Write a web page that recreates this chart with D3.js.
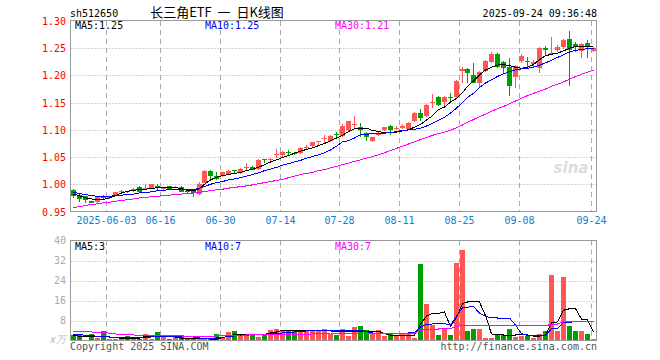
<!DOCTYPE html>
<html>
<head>
<meta charset="utf-8">
<script src="https://cdn.jsdelivr.net/npm/d3@7"></script>
<style>
body { margin: 0; background: #fff; }
svg { display: block; }
</style>
</head>
<body>
<div id="chart"></div>
<script>
// 交易日
const dates = ['2025-05-23','2025-05-26','2025-05-27','2025-05-28','2025-05-29','2025-05-30',
  '2025-06-03','2025-06-04','2025-06-05','2025-06-06','2025-06-09','2025-06-10','2025-06-11','2025-06-12','2025-06-13',
  '2025-06-16','2025-06-17','2025-06-18','2025-06-19','2025-06-20','2025-06-23','2025-06-24','2025-06-25','2025-06-26','2025-06-27',
  '2025-06-30','2025-07-01','2025-07-02','2025-07-03','2025-07-04','2025-07-07','2025-07-08','2025-07-09','2025-07-10','2025-07-11',
  '2025-07-14','2025-07-15','2025-07-16','2025-07-17','2025-07-18','2025-07-21','2025-07-22','2025-07-23','2025-07-24','2025-07-25',
  '2025-07-28','2025-07-29','2025-07-30','2025-07-31','2025-08-01','2025-08-04','2025-08-05','2025-08-06','2025-08-07','2025-08-08',
  '2025-08-11','2025-08-12','2025-08-13','2025-08-14','2025-08-15','2025-08-18','2025-08-19','2025-08-20','2025-08-21','2025-08-22',
  '2025-08-25','2025-08-26','2025-08-27','2025-08-28','2025-08-29','2025-09-01','2025-09-02','2025-09-03','2025-09-04','2025-09-05',
  '2025-09-08','2025-09-09','2025-09-10','2025-09-11','2025-09-12','2025-09-15','2025-09-16','2025-09-17','2025-09-18','2025-09-19',
  '2025-09-22','2025-09-23','2025-09-24'];

const openP = [0.989,0.981,0.978,0.969,0.968,0.979,0.976,0.979,0.986,0.987,
  0.989,0.995,0.992,0.994,0.997,0.992,0.996,0.994,0.995,0.987,
  0.988,0.982,1.003,1.025,1.015,1.015,1.018,1.026,1.021,1.031,
  1.032,1.028,1.046,1.045,1.054,1.053,1.060,1.057,1.058,1.067,
  1.071,1.078,1.084,1.079,1.092,1.088,1.099,1.110,1.106,1.094,
  1.080,1.091,1.099,1.108,1.102,1.103,1.102,1.116,1.131,1.125,
  1.149,1.161,1.152,1.160,1.160,1.209,1.211,1.201,1.187,1.208,
  1.224,1.239,1.224,1.215,1.198,1.227,1.226,1.221,1.213,1.250,
  1.240,1.247,1.253,1.267,1.258,1.244,1.260,1.245];
const highP = [0.991,0.982,0.979,0.970,0.979,0.980,0.979,0.986,0.989,0.988,
  0.994,0.996,1.000,1.000,1.001,0.994,0.997,0.996,0.996,0.989,
  0.989,1.004,1.026,1.026,1.023,1.023,1.026,1.027,1.030,1.040,
  1.033,1.046,1.047,1.048,1.064,1.062,1.063,1.060,1.068,1.073,
  1.078,1.080,1.091,1.090,1.096,1.110,1.117,1.125,1.113,1.096,
  1.087,1.096,1.106,1.109,1.108,1.110,1.114,1.132,1.139,1.148,
  1.166,1.163,1.162,1.168,1.192,1.216,1.213,1.223,1.208,1.228,
  1.243,1.241,1.226,1.232,1.220,1.240,1.233,1.229,1.252,1.254,
  1.271,1.255,1.267,1.282,1.262,1.259,1.266,1.252];
const lowP = [0.974,0.967,0.965,0.965,0.965,0.972,0.973,0.978,0.984,0.984,
  0.986,0.984,0.989,0.993,0.989,0.990,0.991,0.993,0.985,0.984,
  0.977,0.980,1.002,1.009,1.007,1.013,1.017,1.020,1.019,1.027,
  1.026,1.027,1.039,1.042,1.049,1.049,1.052,1.053,1.056,1.064,
  1.069,1.070,1.076,1.077,1.085,1.087,1.097,1.103,1.086,1.079,
  1.078,1.088,1.097,1.091,1.099,1.102,1.100,1.114,1.117,1.123,
  1.141,1.143,1.141,1.153,1.158,1.187,1.187,1.186,1.177,1.206,
  1.222,1.214,1.204,1.163,1.177,1.222,1.216,1.216,1.205,1.238,
  1.238,1.243,1.248,1.181,1.243,1.232,1.232,1.243];
const closeP = [0.979,0.973,0.972,0.966,0.977,0.975,0.977,0.985,0.987,0.986,
  0.991,0.986,0.994,1.000,0.993,0.993,0.992,0.995,0.986,0.986,
  0.984,1.001,1.024,1.015,1.010,1.022,1.025,1.024,1.029,1.032,
  1.027,1.045,1.044,1.046,1.056,1.059,1.058,1.056,1.067,1.069,
  1.077,1.079,1.085,1.089,1.090,1.108,1.116,1.111,1.099,1.086,
  1.086,1.092,1.105,1.100,1.104,1.108,1.112,1.131,1.122,1.146,
  1.151,1.146,1.161,1.159,1.190,1.211,1.205,1.187,1.207,1.227,
  1.240,1.216,1.213,1.181,1.218,1.235,1.224,1.225,1.250,1.246,
  1.242,1.253,1.265,1.246,1.252,1.257,1.253,1.250];

// 均线
const ma5 = [0.982,0.979,0.975,0.973,0.972,0.972,0.975,0.979,0.984,0.987,
  0.989,0.990,0.991,0.992,0.994,0.995,0.995,0.994,0.992,0.989,
  0.988,0.992,1.000,1.008,1.013,1.016,1.018,1.020,1.022,1.025,
  1.028,1.031,1.036,1.041,1.045,1.049,1.053,1.057,1.061,1.064,
  1.067,1.071,1.075,1.080,1.085,1.090,1.097,1.102,1.103,1.103,
  1.099,1.097,1.095,1.095,1.096,1.098,1.100,1.105,1.110,1.118,
  1.126,1.137,1.142,1.151,1.158,1.168,1.180,1.190,1.201,1.210,
  1.215,1.219,1.220,1.218,1.215,1.213,1.215,1.220,1.229,1.236,
  1.239,1.241,1.245,1.250,1.253,1.254,1.254,1.253];
const ma10 = [0.985,0.983,0.981,0.979,0.978,0.978,0.978,0.979,0.980,0.981,
  0.982,0.984,0.985,0.986,0.988,0.989,0.990,0.990,0.990,0.990,
  0.990,0.993,0.996,1.000,1.003,1.005,1.008,1.010,1.012,1.015,
  1.018,1.021,1.025,1.028,1.031,1.035,1.038,1.041,1.044,1.048,
  1.051,1.054,1.058,1.063,1.070,1.078,1.080,1.085,1.091,1.092,
  1.093,1.093,1.094,1.095,1.097,1.099,1.100,1.101,1.103,1.107,
  1.112,1.118,1.123,1.131,1.140,1.150,1.160,1.167,1.178,1.186,
  1.192,1.198,1.203,1.207,1.210,1.212,1.213,1.215,1.219,1.223,
  1.228,1.233,1.238,1.243,1.246,1.248,1.249,1.250];
const ma30 = [0.957,0.959,0.961,0.963,0.964,0.966,0.967,0.969,0.970,0.972,
  0.973,0.975,0.976,0.977,0.978,0.979,0.980,0.981,0.982,0.983,
  0.984,0.985,0.987,0.988,0.990,0.991,0.993,0.994,0.996,0.997,
  0.999,1.001,1.003,1.005,1.007,1.009,1.012,1.015,1.018,1.020,
  1.022,1.025,1.027,1.030,1.033,1.036,1.039,1.042,1.045,1.048,
  1.051,1.054,1.058,1.062,1.066,1.070,1.074,1.078,1.082,1.086,
  1.090,1.093,1.096,1.099,1.104,1.109,1.114,1.119,1.124,1.129,
  1.134,1.139,1.143,1.148,1.153,1.158,1.163,1.167,1.171,1.175,
  1.180,1.184,1.188,1.193,1.198,1.202,1.206,1.210];

// 成交量 (万)
const volume = [2.1,2.1,0.4,2.5,1.0,3.7,0.5,0.5,1.4,1.7,
  0.8,0.8,2.5,0.5,3.4,1.4,0.8,1.4,2.1,1.2,
  1.2,0.8,0.8,0.5,2.5,1.2,3.4,3.8,2.8,1.7,
  2.1,1.4,2.5,4.1,4.6,4.4,4.1,4.1,3.8,4.4,
  3.8,4.1,4.6,2.5,2.1,4.5,1.7,5.4,5.7,4.1,
  2.8,4.1,1.7,2.8,1.7,2.5,2.5,1.2,30.5,14.5,
  6.1,2.1,4.8,2.1,31.1,36.1,3.7,4.8,4.5,1.0,
  1.0,2.4,2.4,4.5,1.4,1.7,1.7,1.0,2.5,3.7,
  26.1,3.7,25.3,5.7,3.8,3.8,2.8,0.5];
const volMa5 = [2.1,1.7,1.7,1.6,1.6,1.5,1.4,1.4,0.8,0.8,
  0.8,0.9,1.7,1.7,1.7,1.6,1.5,1.4,1.0,1.0,
  1.0,1.0,0.7,0.6,0.6,1.2,1.7,2.3,2.5,2.5,
  2.5,2.5,2.5,3.0,3.4,4.1,4.1,4.1,4.1,4.1,
  4.1,4.1,4.1,3.8,3.7,3.7,3.7,3.7,3.7,3.7,
  3.7,3.7,2.8,2.1,2.1,2.1,2.1,2.1,6.5,9.8,
  10.9,10.9,11.4,5.6,9.2,14.8,15.4,15.5,15.4,10.0,
  2.6,2.4,2.2,2.2,2.2,2.3,2.2,1.8,1.8,2.1,
  7.0,7.4,12.1,12.7,12.8,8.5,8.3,3.3];
const volMa10 = [2.5,2.3,2.1,1.9,1.7,1.6,1.4,1.3,1.2,1.2,
  1.2,1.2,1.2,1.4,1.6,1.7,1.7,1.7,1.7,1.7,
  1.4,1.0,1.0,1.0,1.0,1.2,1.6,1.8,2.0,2.1,
  2.3,2.4,2.5,2.6,2.8,3.0,3.2,3.4,3.6,3.8,
  4.0,4.1,4.1,4.1,4.1,4.1,4.1,4.1,4.1,3.5,
  3.0,3.0,3.0,3.0,3.0,3.0,3.0,3.3,5.4,6.4,
  6.6,6.7,6.8,6.1,9.7,13.1,13.3,13.6,11.0,9.6,
  9.1,9.0,9.0,9.0,6.2,2.7,2.1,2.1,2.1,2.1,
  4.7,4.9,7.2,7.3,7.5,7.7,7.8,7.8];
const volMa30 = [3.7,3.6,3.5,3.4,3.3,3.2,2.9,2.6,2.4,2.3,
  2.2,2.1,2.1,2.1,2.1,2.1,2.1,2.0,1.8,1.7,
  1.7,1.7,1.7,1.7,1.8,1.9,2.0,2.1,2.2,2.2,
  2.3,2.4,2.5,2.5,2.5,2.5,2.5,2.5,2.5,2.5,
  2.6,2.7,2.8,3.0,3.0,3.0,3.0,3.0,3.0,3.0,
  3.0,3.0,3.0,3.0,3.0,3.0,3.0,3.0,4.0,4.4,
  4.6,4.6,4.7,4.8,5.6,6.1,6.1,6.1,6.1,6.1,
  6.1,6.1,6.1,6.1,6.1,6.1,6.1,6.1,6.1,5.8,
  6.6,6.6,7.5,7.6,7.7,7.8,7.8,7.8];

// 刻度
const priceTicks = [0.95, 1.00, 1.05, 1.10, 1.15, 1.20, 1.25, 1.30];
const volTicks = [8, 16, 24, 32, 40];
const dateTicks = ['2025-06-03','2025-06-16','2025-06-30','2025-07-14','2025-07-28','2025-08-11','2025-08-25','2025-09-08','2025-09-24'];
const dateTickLabels = ['2025-06-03','06-16','06-30','07-14','07-28','08-11','08-25','09-08','09-24'];

const width = 660, height = 360;
const mono = '"DejaVu Sans Mono", "Liberation Mono", monospace';
const upColor = '#ff5555', downColor = '#009f00';
const gridColor = '#aaaaaa';

const svg = d3.select('#chart')
  .append('svg')
  .attr('width', width)
  .attr('height', height)
  .style('background-color', '#fff');

const x = d3.scaleBand()
  .domain(dates)
  .range([70.5, 596.5])
  .paddingInner(0.16)
  .paddingOuter(0.08);

const yPrice = d3.scaleLinear().domain([0.95, 1.30]).range([211.5, 21]);
const yVol = d3.scaleLinear().domain([0, 40]).range([340.5, 240.5]);

const rows = dates.map((d, i) => ({
  date: d, open: openP[i], high: highP[i], low: lowP[i], close: closeP[i],
  ma5: ma5[i], ma10: ma10[i], ma30: ma30[i],
  vol: volume[i], vma5: volMa5[i], vma10: volMa10[i], vma30: volMa30[i]
}));

const gridX = d => Math.round(x(d) - x.step() * x.paddingInner() / 2) + 0.5;
const cx = d => Math.round(x(d)) + 2.5;
const crisp = v => Math.round(v) + 0.5;

// 网格
const drawGrid = (yScale, ticks, top, bottom) => {
  svg.append('g')
    .selectAll('line')
    .data(ticks)
    .enter()
    .append('line')
    .attr('x1', 70.5).attr('x2', 596.5)
    .attr('y1', d => crisp(yScale(d))).attr('y2', d => crisp(yScale(d)))
    .attr('stroke', gridColor)
    .attr('stroke-dasharray', '1,2');

  svg.append('g')
    .selectAll('line')
    .data(dateTicks)
    .enter()
    .append('line')
    .attr('x1', gridX).attr('x2', gridX)
    .attr('y1', top).attr('y2', bottom)
    .attr('stroke', gridColor)
    .attr('stroke-dasharray', '5,4');
};

drawGrid(yPrice, priceTicks.slice(1, -1), 21, 211.5);
drawGrid(yVol, volTicks.slice(0, -1), 240.5, 340.5);

// K线
const candles = svg.append('g').attr('shape-rendering', 'crispEdges');
candles.selectAll('line')
  .data(rows)
  .enter()
  .append('line')
  .attr('x1', d => cx(d.date)).attr('x2', d => cx(d.date))
  .attr('y1', d => yPrice(d.high)).attr('y2', d => yPrice(d.low))
  .attr('stroke', d => d.close >= d.open ? upColor : downColor);

candles.selectAll('rect')
  .data(rows)
  .enter()
  .append('rect')
  .attr('x', d => Math.round(x(d.date)))
  .attr('width', 5)
  .attr('y', d => yPrice(Math.max(d.open, d.close)))
  .attr('height', d => Math.max(1, Math.abs(yPrice(d.open) - yPrice(d.close))))
  .attr('fill', d => d.close >= d.open ? upColor : downColor);

// 成交量
svg.append('g')
  .attr('shape-rendering', 'crispEdges')
  .selectAll('rect')
  .data(rows)
  .enter()
  .append('rect')
  .attr('x', d => Math.round(x(d.date)))
  .attr('width', 5)
  .attr('y', d => yVol(d.vol))
  .attr('height', d => yVol(0) - yVol(d.vol))
  .attr('fill', d => d.close >= d.open ? upColor : downColor);

// 均线
const maLines = [
  { key: 'ma5', color: '#000000', y: yPrice },
  { key: 'ma10', color: '#0000ff', y: yPrice },
  { key: 'ma30', color: '#ff00ff', y: yPrice },
  { key: 'vma5', color: '#000000', y: yVol },
  { key: 'vma10', color: '#0000ff', y: yVol },
  { key: 'vma30', color: '#ff00ff', y: yVol }
];
maLines.forEach(m => {
  const line = d3.line()
    .x(d => cx(d.date))
    .y(d => m.y(d[m.key]));
  svg.append('path')
    .datum(rows)
    .attr('d', line)
    .attr('fill', 'none')
    .attr('stroke', m.color)
    .attr('stroke-width', 1)
    .attr('shape-rendering', 'crispEdges');
});

// 边框
[[20.5, 211.5], [240.5, 340.5]].forEach(([t, b]) => {
  svg.append('rect')
    .attr('x', 70.5).attr('y', t)
    .attr('width', 526).attr('height', b - t)
    .attr('fill', 'none')
    .attr('stroke', '#999')
    .attr('shape-rendering', 'crispEdges');
});

// 纵轴标签
svg.append('g')
  .selectAll('text')
  .data(priceTicks)
  .enter()
  .append('text')
  .attr('x', 66)
  .attr('y', d => yPrice(d) + 4)
  .attr('text-anchor', 'end')
  .attr('fill', '#ff0000')
  .style('font', `10px ${mono}`)
  .text(d => d.toFixed(2));

svg.append('g')
  .selectAll('text')
  .data(volTicks)
  .enter()
  .append('text')
  .attr('x', 66)
  .attr('y', d => yVol(d) + 3.5)
  .attr('text-anchor', 'end')
  .attr('fill', '#aaaaaa')
  .style('font', `10px ${mono}`)
  .text(d => d);

svg.append('text')
  .attr('x', 66).attr('y', 343)
  .attr('text-anchor', 'end')
  .attr('fill', '#bbbbbb')
  .style('font', `italic 10px ${mono}`)
  .text('x万');

// 日期标签
svg.append('g')
  .selectAll('text')
  .data(dateTicks)
  .enter()
  .append('text')
  .attr('x', gridX)
  .attr('y', 224)
  .attr('text-anchor', 'middle')
  .attr('fill', '#0a80d0')
  .style('font', `10px ${mono}`)
  .text((d, i) => dateTickLabels[i]);

// 标题
svg.append('text').attr('x', 70).attr('y', 16.5)
  .style('font', `10px ${mono}`).attr('fill', '#000').text('sh512650');
svg.append('text').attr('x', 217).attr('y', 17).attr('text-anchor', 'middle')
  .style('font', '13px "Noto Sans CJK SC", sans-serif').style('white-space', 'pre')
  .attr('fill', '#000').text('长三角ETF  一  日K线图');
svg.append('text').attr('x', 597).attr('y', 16.5).attr('text-anchor', 'end')
  .style('font', `10px ${mono}`).attr('fill', '#000').text('2025-09-24 09:36:48');

// 图例
const legend = (y, items) => {
  items.forEach(it => {
    svg.append('text').attr('x', it.x).attr('y', y)
      .style('font', `10px ${mono}`).attr('fill', it.color).text(it.text);
  });
};
legend(29, [
  { x: 75, color: '#000000', text: 'MA5:1.25' },
  { x: 205, color: '#0000ff', text: 'MA10:1.25' },
  { x: 335, color: '#ff00ff', text: 'MA30:1.21' }
]);
legend(249.5, [
  { x: 75, color: '#000000', text: 'MA5:3' },
  { x: 205, color: '#0000ff', text: 'MA10:7' },
  { x: 335, color: '#ff00ff', text: 'MA30:7' }
]);

// 水印
svg.append('text').attr('x', 571).attr('y', 173).attr('text-anchor', 'middle')
  .style('font', 'italic bold 15px "DejaVu Sans", sans-serif').attr('fill', '#dddddd').text('sina');

// 版权
svg.append('text').attr('x', 70).attr('y', 350)
  .style('font', `10px ${mono}`).attr('fill', '#555').text('Copyright 2025 SINA.COM');
svg.append('text').attr('x', 597).attr('y', 350).attr('text-anchor', 'end')
  .style('font', `10px ${mono}`).attr('fill', '#555').text('http://finance.sina.com.cn');
</script>
</body>
</html>
